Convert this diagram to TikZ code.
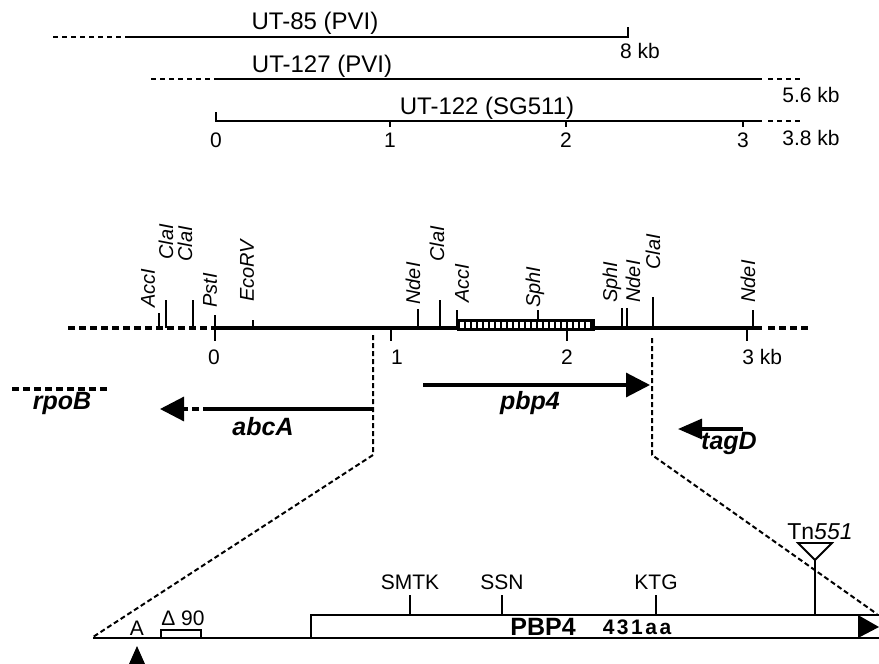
\documentclass[tikz,border=0pt]{standalone}
\usepackage{fontspec}
\setmainfont{Liberation Sans}
\usetikzlibrary{arrows.meta}
\tikzset{
  texto/.style={inner sep=0pt,font=\fontsize{10.5}{12}\selectfont},
  clon/.style={inner sep=0pt,font=\fontsize{12}{14}\selectfont},
  enzima/.style={inner sep=0pt,rotate=90,anchor=west,font=\fontsize{10}{12}\selectfont\itshape},
  gen/.style={inner sep=0pt,font=\fontsize{12.5}{14}\selectfont\bfseries\itshape},
  linea/.style={line width=0.9pt},
  fina/.style={line width=0.9pt,dash pattern=on 2.5pt off 2pt},
  mapa/.style={line width=1.6pt},
  punteado/.style={line width=1.6pt,dash pattern=on 3.5pt off 2pt},
  corte/.style={line width=1pt},
  zoomlinea/.style={line width=1pt,dash pattern=on 2.5pt off 1.5pt},
  flecha/.style={line width=1.6pt,-{Triangle[length=12pt,width=12pt]}},
}

\begin{document}
\begin{tikzpicture}[x=0.5pt,y=-0.5pt]
  \useasboundingbox (0,0) rectangle (879,664);

  % clones
  \draw[fina] (53,37) -- (126,37);
  \draw[linea] (126,37) -- (628,37) -- (628,27);
  \node[clon] (ut85) at (315,23) {UT-85 (PVI)};
  \node[texto] (kb8) at (640,51) {8 kb};

  \draw[fina] (151,79) -- (216,79);
  \draw[linea] (216,79) -- (762,79);
  \draw[fina] (768,79) -- (802,79);
  \node[clon] (ut127) at (322,66) {UT-127 (PVI)};
  \node[texto] (kb56) at (811,95) {5.6 kb};

  \draw[linea] (216,112) -- (216,121) -- (762,121);
  \draw[fina] (768,121) -- (800,121);
  \foreach \x in {390,566,743} \draw[linea] (\x,121) -- (\x,127);
  \node[clon] (ut122) at (487,108) {UT-122 (SG511)};
  \foreach \x/\t in {216/0,390/1,566/2,743/3}
    \node[texto] (e\t) at (\x,140) {\t};
  \node[texto] (kb38) at (811,138) {3.8 kb};

  % mapa de restriccion
  \draw[punteado] (68,328) -- (215,328);
  \draw[mapa] (215,328) -- (762,328);
  \draw[punteado] (768,328) -- (808,328);
  \foreach \x/\y/\lx/\ly/\n [count=\i] in {
      159/313/148/308/AccI, 166/300/166/260/ClaI, 193/300/185/262/ClaI,
      215/315/210/308/PstI, 253/320/247/302/EcoRV, 418/309/413/305/NdeI,
      440/300/437/262/ClaI, 457/310/462/303/AccI, 538/310/535/308/SphI,
      622/308/612/303/SphI, 627/308/633/303/NdeI, 653/297/653/270/ClaI,
      753/310/748/303/NdeI} {
    \draw[linea] (\x,\y) -- (\x,328);
    \node[enzima] (r\i) at (\lx,\ly) {\n};
  }
  % zona sombreada
  \fill (457,319) rectangle (595,331);
  \foreach \i in {0,...,21} \fill[white] ({460+6*\i},322) rectangle ++(4,6);
  \foreach \x in {215,391,567,747} \draw[linea] (\x,328) -- (\x,341);
  \node[texto] (m0) at (214,357) {0};
  \node[texto] (m1) at (397,357) {1};
  \node[texto] (m2) at (567,357) {2};
  \node[texto,anchor=west] (m3) at (742,357) {3 kb};

  % genes
  \coordinate (rpoA) at (12,389);
  \coordinate (rpoZ) at (108,389);
  \draw[punteado] (rpoA) -- (rpoZ);
  \node[gen] (rpoB) at (62,403) {rpoB};

  \coordinate (abcS) at (373,409);
  \coordinate (abcM) at (210,409);
  \coordinate (abcT) at (160,409);
  \draw[mapa] (abcS) -- (abcM);
  \draw[flecha,dash pattern=on 3.5pt off 2pt] (abcM) -- (abcT);
  \node[gen] (abcA) at (263,427) {abcA};

  \coordinate (pbpS) at (423,385);
  \coordinate (pbpT) at (650,385);
  \draw[flecha] (pbpS) -- (pbpT);
  \node[gen] (pbp4) at (530,403) {pbp4};

  \coordinate (tagS) at (743,429);
  \coordinate (tagT) at (678,429);
  \draw[flecha,-{Triangle[length=12pt,width=10pt]}] (tagS) -- (tagT);
  \node[gen] (tagD) at (729,443) {tagD};

  % ampliacion
  \coordinate (zl1) at (373,335);
  \coordinate (zl2) at (373,455);
  \coordinate (zl3) at (93,637);
  \coordinate (zr1) at (652,338);
  \coordinate (zr2) at (652,455);
  \coordinate (zr3) at (877,614);
  \draw[zoomlinea] (zl1) -- (zl2) -- (zl3);
  \draw[zoomlinea] (zr1) -- (zr2) -- (zr3);

  % PBP4
  \draw[corte] (93,638) -- (879,638);
  \draw[corte] (311,638) -- (311,615) -- (879,615);
  \fill (858,615) -- (879,627) -- (858,638) -- cycle;
  \draw[corte] (161,638) rectangle (201,630);
  \node[texto] (d90) at (183,618) {Δ 90};
  \node[texto] (a) at (137,628) {A};
  \fill (137,646) -- (129,664) -- (145,664) -- cycle;
  \foreach \x/\m in {410/SMTK,502/SSN,656/KTG} {
    \draw[linea] (\x,595) -- (\x,615);
    \node[texto] (\m) at (\x,582) {\m};
  }
  \draw[linea] (815,615) -- (815,560);
  \draw[linea] (798,543) -- (832,543) -- (815,560) -- cycle;
  \node[texto,font=\fontsize{11.5}{13}\selectfont] (tn) at (820,532) {Tn\textit{551}};
  \node[inner sep=0pt,font=\fontsize{12.5}{14}\selectfont\bfseries] (pbp) at (543,627) {PBP4};
  \node[inner sep=0pt,font=\fontsize{10.5}{12}\selectfont\bfseries\addfontfeature{LetterSpace=12}] (aa) at (637,627) {431aa};
\end{tikzpicture}
\end{document}
